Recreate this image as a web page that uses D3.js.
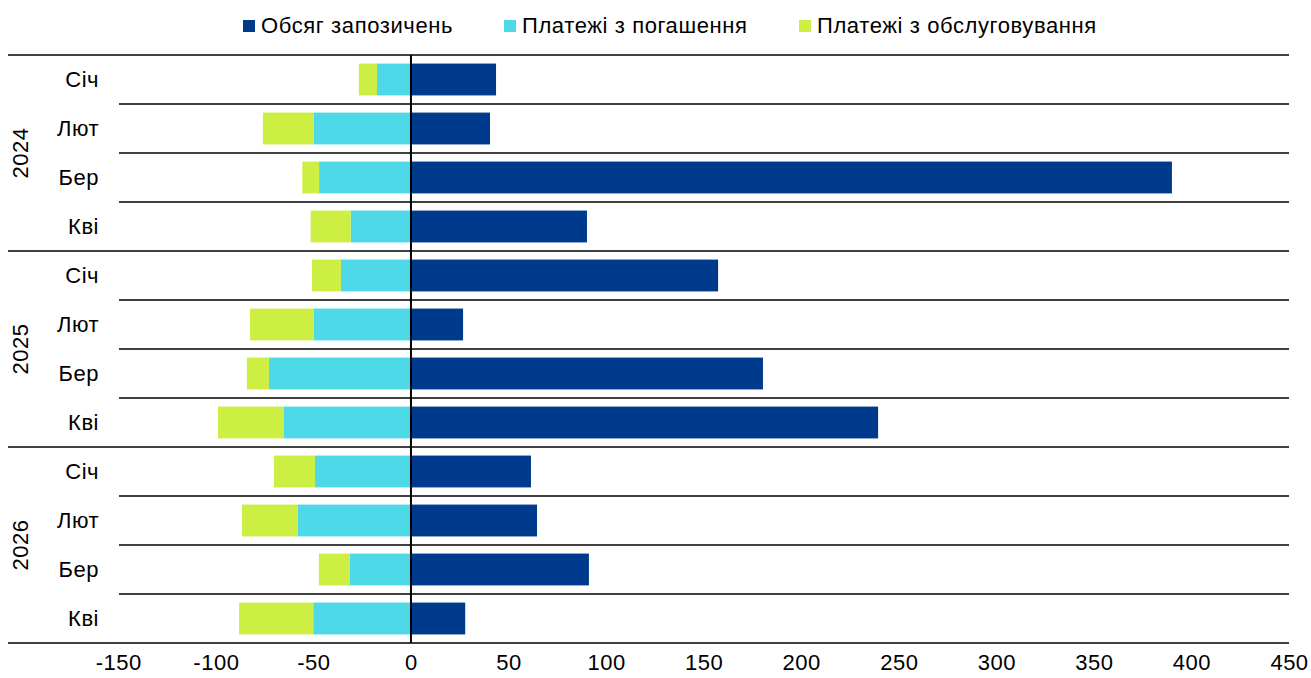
<!DOCTYPE html>
<html><head><meta charset="utf-8">
<script src="https://cdn.jsdelivr.net/npm/d3@7"></script>
<style>body{margin:0;background:#fff;}svg{display:block;font-family:"Liberation Sans",Arial,sans-serif;}</style>
</head><body>
<svg id="c" width="1311" height="678"></svg>
<script>
const years = ["2024","2025","2026"];
const months = ["Січ","Лют","Бер","Кві"];
const borrowing = [43.6,40.5,390,90.2, 157.4,26.7,180.4,239.4, 61.5,64.6,91.2,27.8];
const repayment = [-17.4,-49.7,-47.1,-30.9, -35.9,-49.7,-72.8,-65.1, -49.2,-57.9,-31.3,-50.1];
const servicing = [-9.3,-26.2,-8.6,-20.5, -14.8,-32.8,-11.3,-33.8, -21.0,-28.7,-15.9,-38.0];
const seriesNames = ["Обсяг запозичень","Платежі з погашення","Платежі з обслуговування"];
const colors = ["#003A8C","#4ED9E8","#CDEF44"];
const xTicks = [-150,-100,-50,0,50,100,150,200,250,300,350,400,450];

const svg = d3.select("#c");
const rows = [];
years.forEach(y=>months.forEach(m=>rows.push({year:y,month:m,key:y+"-"+m})));
rows.forEach((r,i)=>{r.b=borrowing[i];r.r=repayment[i];r.s=servicing[i];});

const x = d3.scaleLinear().domain([-150,450]).range([118.3,1289]);
const y = d3.scaleBand().domain(rows.map(r=>r.key)).range([55,643]).paddingInner(0.35).paddingOuter(0.175);
const step = y.step();

// bars
const g = svg.append("g");
g.selectAll("rect.b").data(rows).join("rect")
  .attr("x",x(0)).attr("y",d=>y(d.key)).attr("width",d=>x(d.b)-x(0)).attr("height",y.bandwidth()).attr("fill",colors[0]);
g.selectAll("rect.r").data(rows).join("rect")
  .attr("x",d=>x(d.r)).attr("y",d=>y(d.key)).attr("width",d=>x(0)-x(d.r)).attr("height",y.bandwidth()).attr("fill",colors[1]);
g.selectAll("rect.s").data(rows).join("rect")
  .attr("x",d=>x(d.r+d.s)).attr("y",d=>y(d.key)).attr("width",d=>x(d.r)-x(d.r+d.s)).attr("height",y.bandwidth()).attr("fill",colors[2]);

// separators
const y0 = 55;
for(let i=0;i<=rows.length;i++){
  const yy = y0 + i*step;
  const full = i%4===0;
  svg.append("line").attr("x1",full?8:119).attr("x2",1289).attr("y1",yy).attr("y2",yy)
    .attr("stroke","#000").attr("stroke-width",1.5);
}
// zero line
svg.append("line").attr("x1",x(0)).attr("x2",x(0)).attr("y1",55).attr("y2",643).attr("stroke","#000").attr("stroke-width",2);

// month labels
svg.selectAll("text.m").data(rows).join("text")
  .attr("x",99).attr("y",d=>y(d.key)+y.bandwidth()/2).attr("dy","0.35em")
  .attr("text-anchor","end").attr("font-size",22).attr("letter-spacing","0.5px").attr("fill","#000").text(d=>d.month);
// year labels
years.forEach((yr,i)=>{
  const cy = y0 + (i*4+2)*step;
  svg.append("text").attr("transform",`translate(28,${cy}) rotate(-90)`)
    .attr("text-anchor","middle").attr("font-size",22).attr("letter-spacing","0.5px").attr("fill","#000").text(yr);
});

// x axis
const ax = svg.append("g").attr("transform","translate(0,643)")
  .call(d3.axisBottom(x).tickValues(xTicks).tickSize(0).tickPadding(11).tickFormat(d=>d<0?"-"+Math.abs(d):d));
ax.select(".domain").remove();
ax.selectAll("text").attr("font-size",22).attr("letter-spacing","0.5px").attr("fill","#000").attr("font-family","Liberation Sans, Arial, sans-serif");

// legend
const legX = [243,504,799];
seriesNames.forEach((n,i)=>{
  svg.append("rect").attr("x",legX[i]).attr("y",20).attr("width",12).attr("height",12).attr("fill",colors[i]);
  svg.append("text").attr("x",legX[i]+18).attr("y",25).attr("dy","0.35em").attr("font-size",22).attr("letter-spacing","0.6px").attr("fill","#000").text(n);
});
</script>
</body></html>
